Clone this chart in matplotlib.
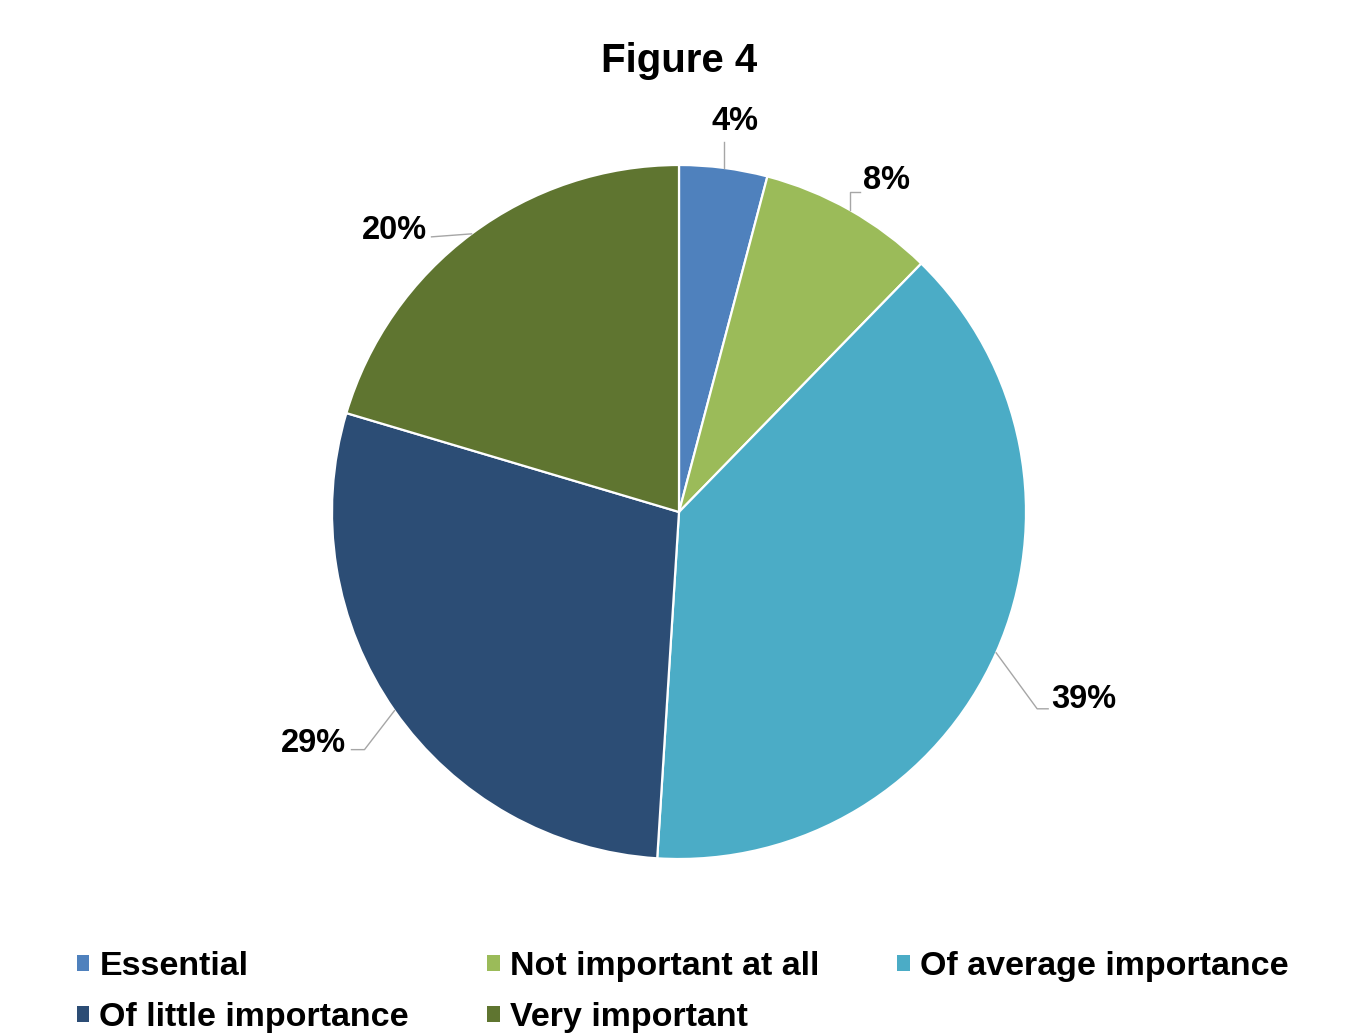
import numpy as np
import matplotlib.pyplot as plt
from matplotlib.patches import Patch

plt.rcParams['font.family'] = ['Liberation Sans', 'DejaVu Sans']

categories = ["Essential", "Not important at all", "Of average importance",
              "Of little importance", "Very important"]
shares = [4.1, 8.2, 38.7, 28.6, 20.4]
colors = ["#4F81BD", "#9BBB59", "#4BACC6", "#2C4D75", "#5F7530"]

# leader line elbows (pixel offsets from the wedge edge), tail length, label side
elbows = [(0, 26), (0, 18), (41, -56), (-30, -39), (-40, -3)]
tails = [0, 10, 11, -13, 0]
sides = ["center", "left", "left", "right", "right"]

W, H = 1355, 1034
fig = plt.figure(figsize=(W / 100, H / 100), dpi=100)
ax = fig.add_axes([0, 0, 1, 1])

cx, cy, r = 679, H - 512, 347
wedges, _ = ax.pie(shares, colors=colors, startangle=90, counterclock=False,
                   center=(cx, cy), radius=r,
                   wedgeprops=dict(edgecolor="white", linewidth=1.6))
ax.set_xlim(0, W)
ax.set_ylim(0, H)
ax.axis("off")

# percentage labels with grey leader lines
lab_size = 23.5
cum = np.cumsum([0] + shares[:-1])
for i, v in enumerate(shares):
    ang = np.deg2rad(90 - (cum[i] + v / 2) * 3.6)
    x0, y0 = cx + r * np.cos(ang), cy + r * np.sin(ang)
    ex, ey = x0 + elbows[i][0], y0 + elbows[i][1]
    tx = ex + tails[i]
    ax.plot([x0, ex, tx], [y0, ey, ey], color="#A6A6A6", lw=1.0)
    txt = "%.0f%%" % v
    if sides[i] == "center":
        ax.text(tx + 11, ey + 5, txt, ha="center", va="bottom",
                fontsize=lab_size, fontweight="bold")
    elif i == 1:
        ax.text(tx + 3, ey + 12, txt, ha="left",
                va="center", fontsize=lab_size, fontweight="bold")
    elif sides[i] == "left":
        ax.text(tx + 3, ey + 9, txt, ha="left",
                va="center", fontsize=lab_size, fontweight="bold")
    else:
        ax.text(tx - 5, ey + 6, txt, ha="right", va="center",
                fontsize=lab_size, fontweight="bold")

fig.text(cx / W, 1 - 61 / H, "Figure 4", ha="center", va="center",
         fontsize=29, fontweight="bold")

order = [0, 3, 1, 4, 2]
handles = [Patch(facecolor=colors[k], edgecolor="none") for k in order]
fig.legend(handles, [categories[k] for k in order], ncol=3,
           loc="upper left", bbox_to_anchor=(77 / W, 1 - 951 / H),
           frameon=False, prop=dict(weight="bold", size=24.5),
           handlelength=0.36, handleheight=0.36, handletextpad=0.3,
           columnspacing=2.3, labelspacing=0.6, borderpad=0,
           borderaxespad=0)

fig.savefig("out.png", dpi=100)
